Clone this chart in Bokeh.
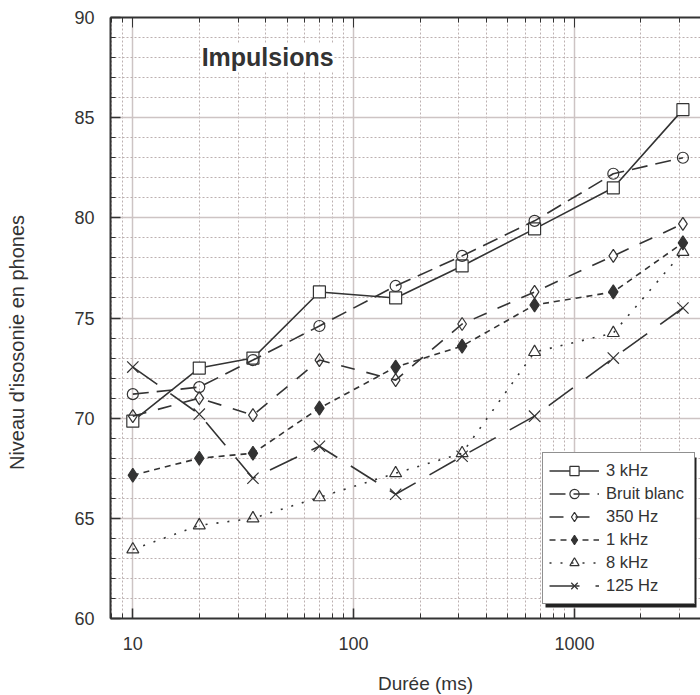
import math
from bokeh.plotting import figure
from bokeh.models import (LogAxis, FixedTicker, Range1d, Label, Legend, LegendItem,
                          NumeralTickFormatter, BoxAnnotation, CustomJSTickFormatter)
from bokeh.embed import file_html
from bokeh.resources import INLINE

# ---- data ----
durations = [10, 20, 35, 70, 155, 310, 660, 1500, 3100]
s_3khz = [69.85, 72.5, 73.0, 76.3, 76.0, 77.6, 79.45, 81.5, 85.4]
s_bruit = [71.2, 71.55, 72.9, 74.6, 76.6, 78.1, 79.85, 82.2, 83.0]
s_350 = [70.1, 71.0, 70.15, 72.9, 71.9, 74.7, 76.3, 78.1, 79.7]
s_1k = [67.15, 68.0, 68.25, 70.5, 72.55, 73.6, 75.65, 76.3, 78.75]
s_8k = [63.45, 64.65, 65.0, 66.05, 67.25, 68.25, 73.3, 74.25, 78.3]
s_125 = [72.55, 70.2, 67.0, 68.6, 66.2, 68.1, 70.1, 73.0, 75.5]

series_labels = ["3 kHz", "Bruit blanc", "350 Hz", "1 kHz", "8 kHz", "125 Hz"]
x_major = [10, 100, 1000]
x_minor = [8, 9, 20, 30, 40, 50, 60, 70, 80, 90, 200, 300, 400, 500, 600, 700, 800, 900,
           2000, 3000]
y_major = [60, 65, 70, 75, 80, 85, 90]
y_minor = list(range(60, 91))

FONT = "Liberation Sans"
INK = "#333333"

p = figure(width=700, height=695, x_axis_type="log",
           x_range=Range1d(7.924, 3724), y_range=Range1d(60, 90),
           output_backend="svg", toolbar_location=None,
           min_border_left=110, min_border_top=17, min_border_right=0,
           min_border_bottom=77)
p.outline_line_color = None
p.background_fill_color = "white"

xt = FixedTicker(ticks=x_major, minor_ticks=x_minor)
yt = FixedTicker(ticks=y_major, minor_ticks=y_minor)

for ax in (p.xaxis[0], p.yaxis[0]):
    ax.axis_line_color = INK
    ax.axis_line_width = 2
    ax.major_tick_in = 10
    ax.major_tick_out = 0
    ax.minor_tick_in = 5
    ax.minor_tick_out = 0
    ax.major_tick_line_color = INK
    ax.minor_tick_line_color = INK
    ax.major_tick_line_width = 1.5
    ax.major_label_text_font = FONT
    ax.major_label_text_font_size = "18px"
    ax.major_label_text_color = INK

p.xaxis[0].ticker = xt
p.xaxis[0].formatter = NumeralTickFormatter(format="0")
p.xaxis[0].major_label_standoff = 18
p.yaxis[0].ticker = yt
p.yaxis[0].major_label_standoff = 16

top = LogAxis(ticker=xt, axis_line_color=INK, axis_line_width=2,
              major_tick_in=10, major_tick_out=0, minor_tick_in=5, minor_tick_out=0,
              major_tick_line_color=INK, minor_tick_line_color=INK,
              formatter=CustomJSTickFormatter(code="return ''"),
              major_label_text_font_size="1px")
p.add_layout(top, "above")

for g in (p.xgrid[0], p.ygrid[0]):
    g.grid_line_color = "#cdc4c4"
    g.grid_line_width = 1.5
    g.minor_grid_line_color = "#bcb0b0"
    g.minor_grid_line_dash = "2 2"
    g.minor_grid_line_width = 1
p.xgrid[0].ticker = xt
p.ygrid[0].ticker = yt

styles = [
    (s_3khz, "solid", "square", 12, "white"),
    (s_bruit, "16 8", "circle", 11, None),
    (s_350, "14 12", "diamond", 13, None),
    (s_1k, "6 5", "diamond", 14, INK),
    (s_8k, "2 9", "triangle", 12, None),
    (s_125, "30 16", "x", 16, None),
]

items = []
for lab, (ys, dash, mk, sz, fill) in zip(series_labels, styles):
    ln = p.line(durations, ys, line_color=INK, line_width=1.6, line_dash=dash)
    sc = p.scatter(durations, ys, marker=mk, size=sz, fill_color=fill,
                   line_color=INK, line_width=1.2)
    items.append(LegendItem(label=lab, renderers=[ln, sc]))

shadow = BoxAnnotation(left=435, right=586, bottom=11, top=161,
                       left_units="screen", right_units="screen",
                       top_units="screen", bottom_units="screen",
                       fill_color="#222222", fill_alpha=1, line_color=None)
p.add_layout(shadow)

legend = Legend(items=items, location=(432, 14), orientation="vertical",
                label_text_font=FONT, label_text_font_size="16.5px",
                label_text_color=INK, glyph_width=50, glyph_height=23,
                label_standoff=7, label_width=82, spacing=0, padding=6, margin=0,
                border_line_color="#222222", border_line_width=1.5,
                background_fill_color="white", background_fill_alpha=1)
p.add_layout(legend)

p.add_layout(Label(x=20.5, y=88.03, text="Impulsions", text_font=FONT,
                   text_font_size="25px", text_font_style="bold", text_color=INK,
                   text_baseline="alphabetic", background_fill_color="white"))

p.add_layout(Label(x=315, y=-9.6, x_units="screen", y_units="screen",
                   text="Durée (ms)", text_font=FONT, text_font_size="19px",
                   text_color=INK, text_align="center", text_baseline="alphabetic"),
             "below")
p.add_layout(Label(x=-33, y=276, x_units="screen", y_units="screen",
                   angle=math.pi / 2, text="Niveau d'isosonie en phones",
                   text_font=FONT, text_font_size="20px", text_color=INK,
                   text_align="center", text_baseline="middle"),
             "left")

open("out.html", "w").write(file_html(p, INLINE))
